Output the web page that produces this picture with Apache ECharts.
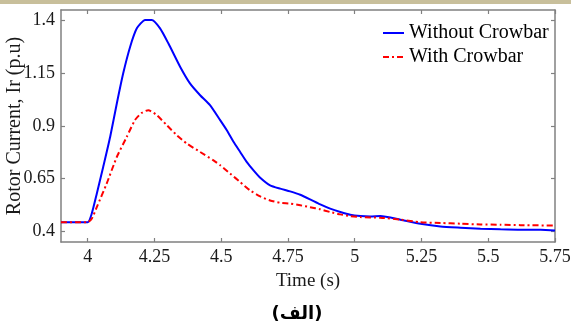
<!DOCTYPE html>
<html>
<head>
<meta charset="utf-8">
<script src="https://cdn.jsdelivr.net/npm/echarts@6/dist/echarts.min.js"></script>
<style>html,body{margin:0;padding:0;background:#fff;}#c{width:571px;height:327px;}</style>
</head>
<body>
<div id="c"></div>
<script>
var timeWithout = [3.9, 4.0, 4.015, 4.034, 4.058, 4.084, 4.109, 4.133, 4.159, 4.184, 4.215, 4.24, 4.271, 4.302, 4.346, 4.383, 4.421, 4.458, 4.496, 4.521, 4.546, 4.571, 4.596, 4.621, 4.646, 4.683, 4.721, 4.758, 4.796, 4.833, 4.871, 4.908, 4.946, 4.983, 5.021, 5.058, 5.096, 5.171, 5.246, 5.321, 5.396, 5.471, 5.546, 5.621, 5.696, 5.75];
var currentWithout = [0.444, 0.444, 0.484, 0.579, 0.706, 0.848, 1.007, 1.15, 1.276, 1.363, 1.403, 1.403, 1.363, 1.292, 1.181, 1.102, 1.046, 0.999, 0.928, 0.88, 0.825, 0.777, 0.729, 0.69, 0.655, 0.619, 0.603, 0.59, 0.574, 0.552, 0.528, 0.508, 0.492, 0.479, 0.473, 0.471, 0.473, 0.456, 0.437, 0.424, 0.418, 0.413, 0.41, 0.408, 0.408, 0.405];
var timeWith = [3.9, 4.0, 4.015, 4.034, 4.071, 4.109, 4.146, 4.177, 4.202, 4.227, 4.259, 4.296, 4.334, 4.371, 4.421, 4.471, 4.496, 4.534, 4.571, 4.608, 4.646, 4.683, 4.721, 4.758, 4.796, 4.833, 4.871, 4.908, 4.946, 4.983, 5.021, 5.096, 5.171, 5.246, 5.321, 5.396, 5.471, 5.546, 5.621, 5.75];
var currentWith = [0.444, 0.444, 0.46, 0.515, 0.627, 0.753, 0.848, 0.928, 0.962, 0.975, 0.951, 0.904, 0.856, 0.817, 0.777, 0.737, 0.714, 0.674, 0.634, 0.595, 0.566, 0.547, 0.536, 0.532, 0.524, 0.515, 0.505, 0.492, 0.481, 0.473, 0.468, 0.465, 0.456, 0.444, 0.44, 0.437, 0.433, 0.432, 0.43, 0.428];
var xTicks = [4, 4.25, 4.5, 4.75, 5, 5.25, 5.5, 5.75];
var yTicks = [0.4, 0.65, 0.9, 1.15, 1.4];
var seriesNames = ['Without Crowbar', 'With Crowbar'];

function pairs(t, v) { return t.map(function (x, i) { return [x, v[i]]; }); }

var font = 'Liberation Serif, Times New Roman, serif';
var axisColor = '#808080';
var chart = echarts.init(document.getElementById('c'), null, {renderer: 'canvas'});
var baseAxis = function (extra) {
  return Object.assign({
    type: 'value',
    nameMoveOverlap: false,
    axisLine: {show: true, lineStyle: {color: axisColor, width: 1.5}},
    splitLine: {show: false}
  }, extra);
};
function tick(vals) {
  return {show: true, inside: true, length: 4, customValues: vals, lineStyle: {color: axisColor, width: 1.2}};
}
chart.setOption({
  animation: false,
  backgroundColor: '#fff',
  grid: {left: 61, right: 16, top: 10, bottom: 85, containLabel: false, outerBoundsMode: 'none'},
  graphic: [
    {type: 'rect', shape: {x: 0, y: 0, width: 571, height: 4}, style: {fill: '#c8bf9b'}},
    {type: 'text', x: 297, y: 314, style: {text: '(الف)', font: 'bold 18px DejaVu Sans', fill: '#000', align: 'center', verticalAlign: 'middle'}}
  ],
  legend: {
    orient: 'vertical', left: 382, top: 23, padding: 0, itemWidth: 21, itemHeight: 12, itemGap: 4,
    data: seriesNames,
    itemStyle: {opacity: 0},
    textStyle: {fontFamily: font, fontSize: 20, color: '#000'}
  },
  xAxis: [
    baseAxis({min: 3.9, max: 5.75, position: 'bottom',
      name: 'Time (s)', nameLocation: 'middle', nameGap: 30,
      nameTextStyle: {fontFamily: font, fontSize: 19, color: '#1a1a1a'},
      axisTick: tick(xTicks),
      axisLabel: {customValues: xTicks, fontFamily: font, fontSize: 18, color: '#1a1a1a', margin: 6}}),
    baseAxis({min: 3.9, max: 5.75, position: 'top',
      axisTick: tick(xTicks),
      axisLabel: {show: false, customValues: xTicks}})
  ],
  yAxis: [
    baseAxis({min: 0.35, max: 1.45, position: 'left',
      name: 'Rotor Current, Ir (p.u)', nameLocation: 'middle', nameGap: 36,
      nameTextStyle: {fontFamily: font, fontSize: 20, color: '#1a1a1a'},
      axisTick: tick(yTicks),
      axisLabel: {customValues: yTicks, fontFamily: font, fontSize: 18, color: '#1a1a1a', margin: 6}}),
    baseAxis({min: 0.35, max: 1.45, position: 'right',
      axisTick: tick(yTicks),
      axisLabel: {show: false, customValues: yTicks}})
  ],
  series: [
    {name: seriesNames[0], type: 'line', data: pairs(timeWithout, currentWithout), showSymbol: false, symbol: 'none',
      smooth: 0.2, lineStyle: {color: '#0000ff', width: 2}, itemStyle: {color: '#0000ff'}},
    {name: seriesNames[1], type: 'line', data: pairs(timeWith, currentWith), showSymbol: false, symbol: 'none',
      smooth: 0.2, lineStyle: {color: '#ff0000', width: 2, type: [6, 3, 2, 3]}, itemStyle: {color: '#ff0000'}}
  ]
});
</script>
</body>
</html>
